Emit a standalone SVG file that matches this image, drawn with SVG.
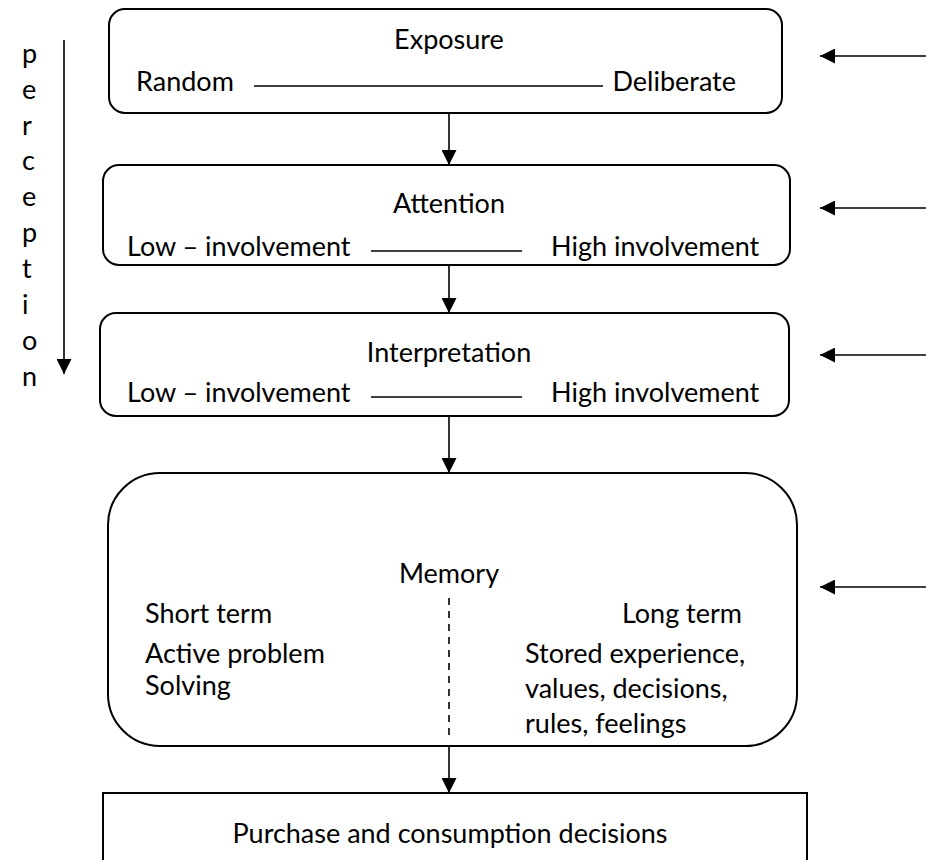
<svg xmlns="http://www.w3.org/2000/svg" width="926" height="860" viewBox="0 0 926 860">
<style>
.box{fill:#fff;stroke:#000;stroke-width:2}
.t{font-family:Lato,"Open Sans","Liberation Sans",sans-serif;font-size:27px;fill:#000}
.m{text-anchor:middle}
.e{text-anchor:end}
.ln{stroke:#000;stroke-width:1.6;fill:none}
.dash{stroke:#000;stroke-width:1.6;stroke-dasharray:7 6;fill:none}
</style>
<defs>
<marker id="ah" viewBox="0 0 10 10" refX="10" refY="5" markerWidth="16" markerHeight="15" markerUnits="userSpaceOnUse" orient="auto">
<path d="M0,0 L10,5 L0,10 Z" fill="#000"/>
</marker>
</defs>
<rect width="926" height="860" fill="#fff"/>

<g id="perception">
<text class="t" x="22" y="63">p</text>
<text class="t" x="22" y="99">e</text>
<text class="t" x="22" y="135">r</text>
<text class="t" x="22" y="170">c</text>
<text class="t" x="22" y="206">e</text>
<text class="t" x="22" y="242">p</text>
<text class="t" x="22" y="278">t</text>
<text class="t" x="22" y="314">i</text>
<text class="t" x="22" y="350">o</text>
<text class="t" x="22" y="386">n</text>
</g>

<g id="exposure">
<rect class="box" x="109" y="9" width="673" height="104" rx="16"/>
<text class="t m" x="449" y="49">Exposure</text>
<text class="t" x="136" y="91">Random</text>
<line class="ln" x1="254" y1="86" x2="603" y2="86"/>
<text class="t e" x="736" y="91">Deliberate</text>
</g>

<g id="attention">
<rect class="box" x="103" y="165" width="687" height="100" rx="16"/>
<text class="t m" x="449" y="213">Attention</text>
<text class="t" x="127" y="256">Low – involvement</text>
<line class="ln" x1="371" y1="251" x2="522" y2="251"/>
<text class="t" x="551" y="256">High involvement</text>
</g>

<g id="interpretation">
<rect class="box" x="100" y="313" width="689" height="103" rx="16"/>
<text class="t m" x="449" y="362">Interpretation</text>
<text class="t" x="127" y="402">Low – involvement</text>
<line class="ln" x1="371" y1="397" x2="522" y2="397"/>
<text class="t" x="551" y="402">High involvement</text>
</g>

<g id="memory">
<rect class="box" x="108" y="473" width="689" height="273" rx="52"/>
<text class="t m" x="449" y="583">Memory</text>
<text class="t e" x="742" y="623">Long term</text>
<text class="t" x="145" y="623">Short term</text>
<line class="dash" x1="449" y1="598" x2="449" y2="736"/>
<text class="t" x="145" y="663">Active problem</text>
<text class="t" x="145" y="695">Solving</text>
<text class="t" x="525" y="663">Stored experience,</text>
<text class="t" x="525" y="698">values, decisions,</text>
<text class="t" x="525" y="733">rules, feelings</text>
</g>

<g id="decisions">
<rect class="box" x="103" y="793" width="704" height="90"/>
<text class="t m" x="450" y="843">Purchase and consumption decisions</text>
</g>

<g id="connectors">
<line class="ln" x1="449" y1="113" x2="449" y2="165" marker-end="url(#ah)"/>
<line class="ln" x1="449" y1="265" x2="449" y2="313" marker-end="url(#ah)"/>
<line class="ln" x1="449" y1="416" x2="449" y2="473" marker-end="url(#ah)"/>
<line class="ln" x1="449" y1="746" x2="449" y2="793" marker-end="url(#ah)"/>
<line class="ln" x1="926" y1="56" x2="820" y2="56" marker-end="url(#ah)"/>
<line class="ln" x1="926" y1="208" x2="820" y2="208" marker-end="url(#ah)"/>
<line class="ln" x1="926" y1="355" x2="820" y2="355" marker-end="url(#ah)"/>
<line class="ln" x1="926" y1="587" x2="820" y2="587" marker-end="url(#ah)"/>
<line class="ln" x1="64" y1="40" x2="64" y2="374" marker-end="url(#ah)"/>
</g>
</svg>
